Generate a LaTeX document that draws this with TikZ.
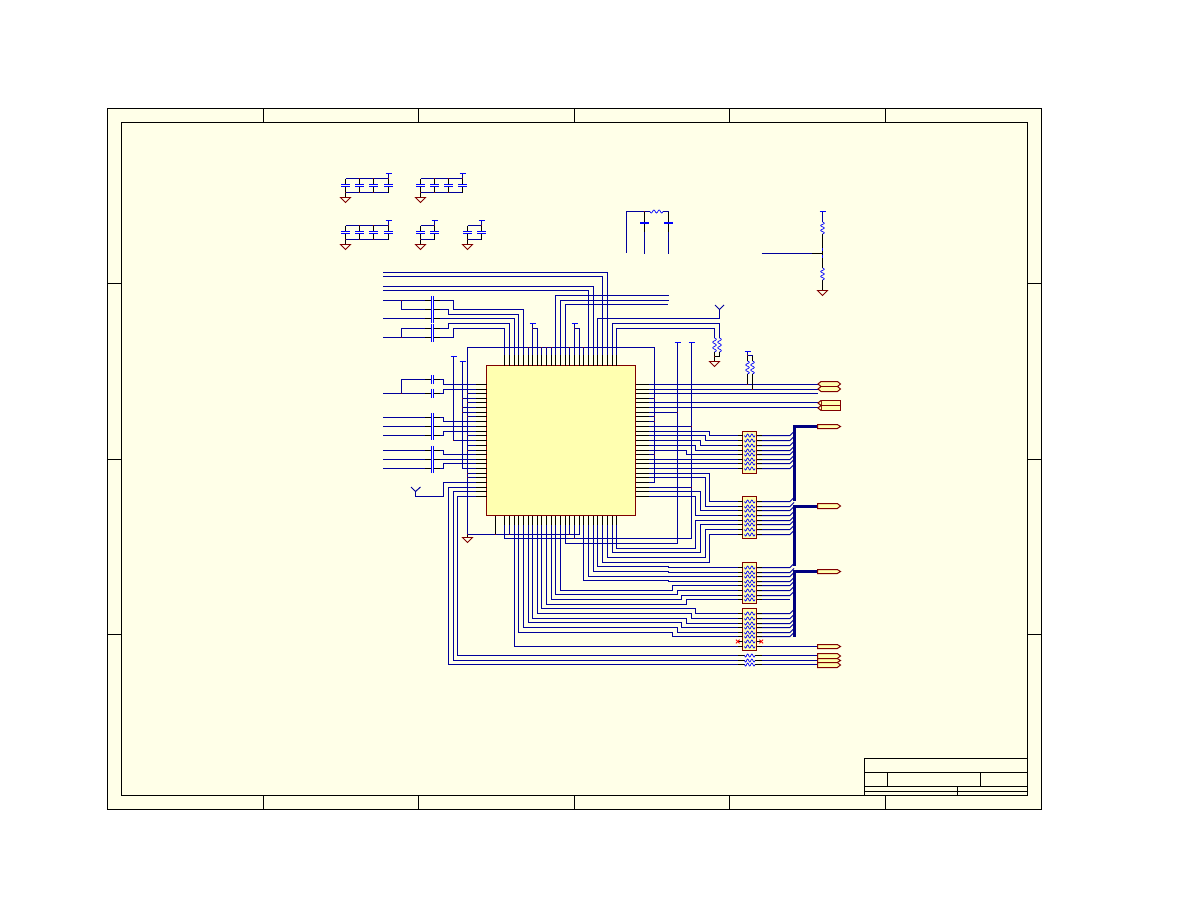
\documentclass[tikz,border=0pt]{standalone}
\usetikzlibrary{calc}
\definecolor{sheet}{HTML}{FFFFE8}
\definecolor{chipfill}{HTML}{FFFFB0}
\definecolor{navy}{HTML}{00009C}
\definecolor{busc}{HTML}{000080}
\definecolor{pure}{HTML}{0000FF}
\definecolor{brick}{HTML}{800000}
\definecolor{jn}{HTML}{8C0000}
\tikzset{
  frameline/.style={draw=black,line width=1pt},
  wire/.style={draw=navy,line width=1pt,line join=miter},
  stub/.style={draw=black,line width=1pt},
  plate/.style={draw=pure,line width=1.3pt},
  fatplate/.style={draw=pure,line width=2pt},
  wavy/.style={draw=pure,line width=.7pt},
  bus/.style={draw=busc,line width=3pt},
  grnd/.style={draw=brick,line width=.9pt},
  chipbox/.style={draw=brick,fill=chipfill,line width=1pt,inner sep=0pt,outer sep=0pt},
  packbox/.style={draw=brick,fill=chipfill,line width=1pt,inner sep=0pt,outer sep=0pt,minimum width=14pt},
  flag/.style={draw=brick,fill=chipfill,line width=1pt},
}
% helpers
\newcommand\jnc[1]{\fill[jn,shift={#1}] (-.8,-.8) rectangle (.8,.8);}
\newcommand\gndsym[2]{\draw[grnd] (#1,#2) -- ({#1+5},#2) -- (#1,{#2+5}) -- ({#1-5},#2) -- cycle;}
\newcommand\pwrsym[2]{\draw[plate,line width=1pt] ({#1-3},#2) -- ({#1+3},#2);}
\newcommand\capcol[3]{% x, ytop, ybot
  \draw[stub] (#1,#2) -- (#1,{#2+5.6});
  \draw[stub] (#1,{#3-5.6}) -- (#1,#3);
  \draw[plate] ({#1-4.5},{#2+6}) -- ({#1+4.5},{#2+6});
  \draw[plate] ({#1-4.5},{#3-6}) -- ({#1+4.5},{#3-6});}
\newcommand\hcap[1]{% horizontal-run capacitor on row y
  \fill[sheet] (432,{#1-1}) rectangle (433,{#1+1});
  \draw[stub] (425,#1) -- (431.5,#1);
  \draw[stub] (433.5,#1) -- (440,#1);
  \draw[plate,line width=1pt] (431.5,{#1-4.6}) -- (431.5,{#1+4.6});
  \draw[plate,line width=1pt] (433.5,{#1-4.6}) -- (433.5,{#1+4.6});}
\newcommand\hwave[3]{\draw[wavy] plot[domain=0:1,samples=25] ({#1+(#2-#1)*\x},{#3+1.5*sin(\x*900)});}
\newcommand\vwave[3]{\draw[wavy] plot[domain=0:1,samples=25] ({#1+1.8*sin(\x*900)},{#2+(#3-#2)*\x});}
\newcommand\capbank[4]{% ytop, ybot, first x, last x
  \draw[wire] (#3,#1) -- (#4,#1);
  \draw[wire] (#3,#2) -- (#4,#2);
  \draw[wire] (#4,#1) -- (#4,{#1-5});
  \pwrsym{#4}{#1-5}
  \draw[stub] (#3,#2) -- (#3,{#2+4.6});
  \gndsym{#3}{#2+5}}
\begin{document}
\begin{tikzpicture}[x=1pt,y=-1pt]
\useasboundingbox (0,0) rectangle (1188,918);
% sheet frame
\draw[frameline,fill=sheet] (107.5,108.5) rectangle (1041.5,809.5);
\draw[frameline] (121.5,122.5) rectangle (1027.5,795.5);
\foreach \tx in {263.5,418.5,574.5,729.5,885.5}{
  \draw[frameline] (\tx,108.5) -- (\tx,122.5);
  \draw[frameline] (\tx,795.5) -- (\tx,809.5);}
\foreach \ty in {283.5,459.5,634.5}{
  \draw[frameline] (107.5,\ty) -- (121.5,\ty);
  \draw[frameline] (1027.5,\ty) -- (1041.5,\ty);}
% title block
\draw[frameline] (864.5,795.5) -- (864.5,758.5) -- (1027.5,758.5);
\draw[frameline] (864.5,772.5) -- (1027.5,772.5);
\draw[frameline] (864.5,786.5) -- (1027.5,786.5);
\draw[frameline] (864.5,791.5) -- (1027.5,791.5);
\draw[frameline] (887.5,772.5) -- (887.5,786.5);
\draw[frameline] (980.5,772.5) -- (980.5,786.5);
\draw[frameline] (957.5,786.5) -- (957.5,795.5);
% pins
\foreach \v [count=\i from 0] in {384.5,389.5,393.5,398.5,402.5,407.5,412.5,416.5,421.5,426.5,431.5,435.5,440.5,445.5,450.5,454.5,459.5,463.5,468.5,473.5,477.5,482.5,487.5,491.5,496.5}{
  \coordinate (L\i) at (486.5,\v);
  \coordinate (R\i) at (635.5,\v);}
\foreach \v [count=\i from 0] in {504.5,509.5,514.5,518.5,523.5,528.5,532.5,537.5,541.5,546.5,551.5,555.5,560.5,565.5,569.5,574.5,579.5,583.5,588.5,593.5,597.5,602.5,607.5,612.5,616.5}{
  \coordinate (T\i) at (\v,365.5);
  \coordinate (B\i) at (\v,515.5);}
\coordinate (VL) at (467.5,347.5);
\coordinate (VR) at (654.5,347.5);
\coordinate (VA) at (677.5,342.5);
\coordinate (VB) at (691.5,342.5);
\coordinate (VP) at (453.5,356.5);
\coordinate (VQ) at (462.5,361.5);
\coordinate (VG) at (467.5,534.5);
% decoupling capacitor banks
\capbank{178.5}{192.5}{345.5}{388.5}
\foreach \c in {345.5,359.5,373.5,388.5}{\capcol{\c}{178.5}{192.5}}
\foreach \c in {359.5,373.5,388.5}{\jnc{(\c,178.5)}}
\foreach \c in {345.5,359.5,373.5}{\jnc{(\c,192.5)}}
\capbank{178.5}{192.5}{420.5}{462.5}
\foreach \c in {420.5,434.5,448.5,462.5}{\capcol{\c}{178.5}{192.5}}
\foreach \c in {434.5,448.5,462.5}{\jnc{(\c,178.5)}}
\foreach \c in {420.5,434.5,448.5}{\jnc{(\c,192.5)}}
\capbank{225.5}{239.5}{345.5}{388.5}
\foreach \c in {345.5,359.5,373.5,388.5}{\capcol{\c}{225.5}{239.5}}
\foreach \c in {359.5,373.5,388.5}{\jnc{(\c,225.5)}}
\foreach \c in {345.5,359.5,373.5}{\jnc{(\c,239.5)}}
\capbank{225.5}{239.5}{420.5}{434.5}
\foreach \c in {420.5,434.5}{\capcol{\c}{225.5}{239.5}}
\jnc{(434.5,225.5)}\jnc{(420.5,239.5)}
\capbank{225.5}{239.5}{467.5}{481.5}
\foreach \c in {467.5,481.5}{\capcol{\c}{225.5}{239.5}}
\jnc{(481.5,225.5)}\jnc{(467.5,239.5)}
% L filter
\draw[wire] (626.5,252.5) -- (626.5,211.5) -- (650,211.5);
\draw[wire] (663,211.5) -- (668.5,211.5) -- (668.5,253.5);
\draw[wire] (644.5,211.5) -- (644.5,253.5);
\hwave{650}{663}{211.5}
\draw[stub] (644.5,212) -- (644.5,222);
\draw[stub] (668.5,212) -- (668.5,222);
\draw[stub] (644.5,224) -- (644.5,232);
\draw[stub] (668.5,224) -- (668.5,232);
\draw[fatplate] (640,223) -- (649,223);
\draw[fatplate] (664,223) -- (672.5,223);
\jnc{(644.5,211.5)}
% divider at upper right
\pwrsym{822.5}{211.5}
\draw[wire] (822.5,211.5) -- (822.5,222);
\draw[stub] (822.5,234) -- (822.5,268);
\draw[stub] (822.5,280) -- (822.5,290);
\vwave{822.5}{222}{234}
\vwave{822.5}{268}{280}
\draw[wire] (761.5,253.5) -- (812,253.5);
\draw[stub] (812,253.5) -- (822.5,253.5);
\draw[plate,line width=1.5pt] (822.5,248) -- (822.5,251);
\draw[plate,line width=1.5pt] (822.5,255) -- (822.5,258);
\gndsym{822.5}{290.5}
% top bus rows
\draw[wire] (383,272.5) -| (T22);
\draw[wire] (383,276.5) -| (T21);
\draw[wire] (383,286.5) -| (T19);
\draw[wire] (383,290.5) -| (T18);
\draw[wire] (668.5,295.5) -| (T11);
\draw[wire] (668.5,300.5) -| (T12);
\draw[wire] (667.5,304.5) -| (T13);
\draw[wire] (719.5,309) -- (719.5,318.5) -| (T20);
\draw[wire] (715,305) -- (719.5,309.5) -- (724,305);
\draw[wire] (719.5,338) -- (719.5,323.5) -| (T23);
\draw[wire] (714.5,338) -- (714.5,328.5) -| (T24);
\vwave{714.5}{338}{352}
\vwave{719.5}{338}{352}
\draw[stub] (714.5,352) -- (714.5,361);
\draw[stub] (719.5,352) -- (719.5,356.5) -- (714.5,356.5);
\jnc{(714.5,356.5)}
\gndsym{714.5}{361.5}
% input capacitors at top
\draw[wire] (383,300.5) -- (453.5,300.5) -- (453.5,309.5) -| (T4);
\draw[wire] (401.5,300.5) -- (401.5,309.5) -- (448.5,309.5) -- (448.5,314.5) -| (T3);
\draw[wire] (383,318.5) -| (T2);
\draw[wire] (401.5,337.5) -- (401.5,328.5) -- (448.5,328.5) -- (448.5,323.5) -| (T1);
\draw[wire] (383,337.5) -- (453.5,337.5) -- (453.5,328.5) -| (T0);
\foreach \r in {300.5,309.5,318.5,328.5,337.5}{\hcap{\r}}
\jnc{(401.5,300.5)}\jnc{(401.5,337.5)}
% top power pins
\pwrsym{532.5}{323.5}
\draw[wire] (532.5,323.5) -- (T6);
\draw[wire] (532.5,328.5) -| (T7);
\pwrsym{574.5}{323.5}
\draw[wire] (574.5,323.5) -- (T15);
\draw[wire] (574.5,328.5) -| (T16);
\jnc{(532.5,328.5)}\jnc{(574.5,328.5)}
% ground ring
\draw[wire] (VG) -- (VL) -- (VR) -- (VR |- R21) -- (R21);
\foreach \j in {5,8,9,10,14,17}{\draw[wire] (T\j) -- (T\j |- VL); \jnc{(T\j |- VL)}}
\foreach \i in {2,4,7,11,14,19,20}{\draw[wire] (L\i) -- (L\i -| VL); \jnc{(L\i -| VL)}}
\foreach \i in {3,7,8,15}{\draw[wire] (R\i) -- (R\i -| VR); \jnc{(R\i -| VR)}}
\draw[stub] (VG) -- (467.5,537.5);
\gndsym{467.5}{537.5}
\jnc{(VG)}
% power rails on the left
\pwrsym{453.5}{356.5}
\pwrsym{462.5}{361.5}
\draw[wire] (VP) -- (VP |- L12) -- (L12);
\draw[wire] (VQ) -- (VQ |- L18) -- (L18);
\jnc{(VP |- L12)}
\foreach \i in {3,5,6}{\draw[wire] (L\i) -- (L\i -| VQ); \jnc{(L\i -| VQ)}}
\draw[wire] (L13) -- ++(-20,0);
% left capacitor rows
\draw[wire] (383,393.5) -- (401.5,393.5) -- (401.5,379.5) -- (443.5,379.5) |- (L0);
\draw[wire] (401.5,393.5) -- (443.5,393.5) |- (L1);
\draw[wire] (383,417.5) -- (443.5,417.5) |- (L8);
\draw[wire] (383,426.5) -- (L9);
\draw[wire] (383,435.5) -- (443.5,435.5) |- (L10);
\draw[wire] (383,450.5) -- (443.5,450.5) |- (L15);
\draw[wire] (383,459.5) -- (L16);
\draw[wire] (383,468.5) -- (443.5,468.5) |- (L17);
\foreach \r in {379.5,393.5,417.5,426.5,435.5,450.5,459.5,468.5}{\hcap{\r}}
\jnc{(401.5,393.5)}
% antenna on left
\draw[wire] (L21) -- (443.5,482.5) -- (443.5,496.5) -- (415.5,496.5) -- (415.5,491.5);
\draw[wire] (411,487) -- (415.5,491.5) -- (420.5,487);
% long rows at left
\draw[wire] (L22) -| (448.5,664.5) -- (742,664.5);
\draw[wire] (L23) -| (453.5,660.5) -- (742,660.5);
\draw[wire] (L24) -| (457.5,655.5) -- (742,655.5);
% ground and supply from below
\draw[stub] (495.5,515.5) -- (495.5,534);
\draw[wire] (VG) -- (B16 |- VG) -- (B16);
\draw[wire] (B1) -- (B1 |- VG);
\draw[wire] (B14) -- (B14 |- VG);
\draw[wire] (B15) -- (574.5,538.5);
\draw[wire] (B0) |- (691.5,538.5) -- (VB);
\draw[wire] (B13) |- (677.5,543.5) -- (VA);
\pwrsym{677.5}{342.5}
\pwrsym{691.5}{342.5}
\jnc{(495.5,534.5)}\jnc{(B1 |- VG)}\jnc{(B14 |- VG)}\jnc{(574.5,538.5)}
\draw[wire] (R6) -- (R6 -| VA); \jnc{(R6 -| VA)}
\foreach \i in {9,22}{\draw[wire] (R\i) -- (R\i -| VB); \jnc{(R\i -| VB)}}
% rows to the upper-right connectors
\foreach \i in {0,1,2,4,5}{\draw[wire] (R\i) -- ++(182.5,0);}
% pull-ups
\pwrsym{747.5}{351.5}
\draw[wire] (747.5,351.5) -- (747.5,355.5) -- (752.5,355.5);
\vwave{747.5}{361}{374}
\vwave{752.5}{361}{374}
\draw[stub] (747.5,355.5) -- (747.5,361);
\draw[stub] (752.5,355.5) -- (752.5,361);
\draw[stub] (747.5,374) -- (747.5,384.5);
\draw[stub] (752.5,374) -- (752.5,389.5);
\jnc{(747.5,355.5)}\jnc{(747.5,384.5)}\jnc{(752.5,389.5)}
% right-hand pins into the packs
\foreach \i/\vx/\py in {10/709.5/435.5,11/705.5/440.5,12/700.5/445.5,13/695.5/450.5,14/686.5/454.5,
    19/709.5/501.5,20/705.5/506.5,23/700.5/510.5,24/695.5/515.5}{
  \draw[wire] (R\i) -| (\vx,\py) -- (742.5,\py);}
\foreach \i in {16,17,18}{\draw[wire] (R\i) -- ++(107,0);}
% bottom pins into the packs
\foreach \j/\ry/\vx/\py in {3/632.5/672.5/636.5,4/627.5/677.5/632.5,5/622.5/681.5/627.5,6/618.5/686.5/623.5,
    7/613.5/691.5/618.5,8/608.5/695.5/613.5,9/604.5/686.5/599.5,10/599.5/681.5/595.5,
    11/594.5/677.5/590.5,12/590.5/672.5/585.5,17/580.5/668.5/581.5,18/576.5/668.5/576.5,
    19/571.5/668.5/572.5,20/566.5/668.5/567.5,21/562.5/709.5/534.5,22/557.5/705.5/529.5,
    23/552.5/700.5/524.5,24/548.5/695.5/520.5}{
  \draw[wire] (B\j) |- (\vx,\ry) -- (\vx,\py) -- (742.5,\py);}
\draw[wire] (B2) |- (818,646.5);
% output rows from packs to the buses
\foreach \r in {435.5,440.5,445.5,450.5,454.5,459.5,463.5,468.5,
                501.5,506.5,510.5,515.5,520.5,524.5,529.5,534.5,
                567.5,572.5,576.5,581.5,585.5,590.5,595.5,
                613.5,618.5,623.5,627.5,632.5,636.5}{
  \draw[wire] (756.5,\r) -- (790,\r) -- (794,{\r-4});}
\draw[wire] (756.5,599.5) -- (790,599.5);
% buses
\draw[bus] (794.5,501) -- (794.5,426.5) -- (817.5,426.5);
\draw[bus] (794.5,566) -- (794.5,506.5) -- (817.5,506.5);
\draw[bus] (794.5,636.5) -- (794.5,571.5) -- (817.5,571.5);
% resistor packs
\node[packbox,minimum height=42pt] (packA) at (749.5,452.5) {};
\node[packbox,minimum height=42pt] (packB) at (749.5,517.5) {};
\node[packbox,minimum height=41pt] (packC) at (749.5,583) {};
\node[packbox,minimum height=42pt] (packD) at (749.5,629.5) {};
\foreach \r in {435.5,440.5,445.5,450.5,454.5,459.5,463.5,468.5,
                501.5,506.5,510.5,515.5,520.5,524.5,529.5,534.5,
                567.5,572.5,576.5,581.5,585.5,590.5,595.5,599.5,
                613.5,618.5,623.5,627.5,632.5,636.5,641.5,646.5}{
  \draw[stub] (738,\r) -- (742.5,\r);
  \draw[stub] (756.5,\r) -- (762,\r);
  \hwave{744.5}{755}{\r}}
\draw[wire] (762,646.5) -- (818,646.5);
% red no-connect marks
\foreach \xm in {737.7,761.3}{
  \draw[red,line width=.9pt] ({\xm-1.8},639.7) -- ({\xm+1.8},643.3);
  \draw[red,line width=.9pt] ({\xm-1.8},643.3) -- ({\xm+1.8},639.7);}
% bare resistors at the bottom
\foreach \r in {655.5,660.5,664.5}{
  \draw[stub] (738,\r) -- (744.5,\r);
  \draw[stub] (755,\r) -- (762,\r);
  \draw[wire] (762,\r) -- (818,\r);
  \hwave{744.5}{755}{\r}}
% connectors
\draw[flag] (821,381.5) -- (837.5,381.5) -- (840.5,384) -- (837.5,386.5) -- (840.5,389) -- (837.5,391.5) -- (821,391.5) -- (818,389) -- (821,386.5) -- (818,384) -- cycle;
\draw[flag] (821,386.5) -- (837.5,386.5);
\draw[flag] (840.5,400.5) rectangle (821,410.5);
\draw[flag] (821,400.5) -- (818,403) -- (821,405.5) -- (818,408) -- (821,410.5);
\draw[flag] (821,405.5) -- (840.5,405.5);
\foreach \ya/\yb in {424.5/428.5,503.5/508.5,569.5/573.5,644.5/648.5,653.5/658.5,658.5/662.5,662.5/667.5}{
  \draw[flag] (817.5,\ya) -- (837.3,\ya) -- (840.5,{(\ya+\yb)/2}) -- (837.3,\yb) -- (817.5,\yb) -- cycle;}
% chip
\node[chipbox,minimum width=149pt,minimum height=150pt] (chip) at (561,440.5) {};
\foreach \i in {0,...,24}{
  \draw[stub] (L\i) -- ++(-11,0);
  \draw[stub] (R\i) -- ++(13.5,0);
  \draw[stub] (T\i) -- ++(0,-11);
  \draw[stub] (B\i) -- ++(0,9.5);}
\end{tikzpicture}
\end{document}
